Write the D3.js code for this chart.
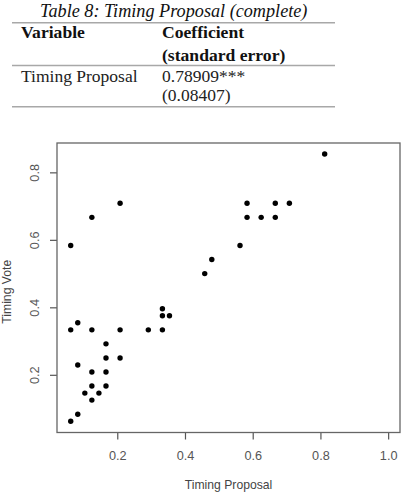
<!DOCTYPE html>
<html>
<head>
<meta charset="utf-8">
<script src="https://cdn.jsdelivr.net/npm/d3@7"></script>
<style>
html,body{margin:0;padding:0;background:#fff;}
svg{display:block;}
</style>
</head>
<body>
<svg id="chart" width="403" height="500"></svg>
<script>
// ---- table data ----
const tableTitle = "Table 8: Timing Proposal (complete)";
const tableHeader = [["Variable"], ["Coefficient", "(standard error)"]];
const tableRow = [["Timing Proposal"], ["0.78909***", "(0.08407)"]];

// ---- scatter data ----
const timingProposal = [0.0625,0.125,0.2083, 0.0625,0.0833,0.125,0.2083,0.2917,0.3333,0.3333,0.3542,0.3333,
  0.1667,0.1667,0.2083,0.0833,0.125,0.1667,0.125,0.1667,0.1042,0.1458,0.125,0.0833,0.0625,
  0.8125,0.5833,0.6667,0.7083,0.5833,0.625,0.6667,0.5625,0.4792,0.4583];
const timingVote = [0.5833,0.6667,0.7083, 0.3333,0.3542,0.3333,0.3333,0.3333,0.3958,0.375,0.375,0.3333,
  0.2917,0.25,0.25,0.2292,0.2083,0.2083,0.1667,0.1667,0.1458,0.1458,0.125,0.0833,0.0625,
  0.8542,0.7083,0.7083,0.7083,0.6667,0.6667,0.6667,0.5833,0.5417,0.5];
const xTicks = [0.2, 0.4, 0.6, 0.8, 1.0];
const yTicks = [0.2, 0.4, 0.6, 0.8];
const xLabel = "Timing Proposal";
const yLabel = "Timing Vote";

const svg = d3.select("#chart");

// ---- table ----
const serif = "'Liberation Serif','Times New Roman',serif";
const tbl = svg.append("g");
tbl.append("text").attr("x", 40).attr("y", 16.5)
  .attr("font-family", serif).attr("font-style", "italic").attr("font-size", 18.2)
  .attr("fill", "#111").text(tableTitle);
const ruleX = [12, 335];
[22.7, 65.5, 106.7].forEach(y => {
  tbl.append("line").attr("x1", ruleX[0]).attr("x2", ruleX[1]).attr("y1", y).attr("y2", y)
    .attr("stroke", "#a8a8a8").attr("stroke-width", 1.5);
});
const colX = [21, 162];
tableHeader.forEach((lines, i) => lines.forEach((t, j) => {
  tbl.append("text").attr("x", colX[i]).attr("y", 37.5 + j * 23.5)
    .attr("font-family", serif).attr("font-weight", "bold").attr("font-size", 17.6)
    .attr("fill", "#111").text(t);
}));
tableRow.forEach((lines, i) => lines.forEach((t, j) => {
  tbl.append("text").attr("x", colX[i]).attr("y", 81.7 + j * 19)
    .attr("font-family", serif).attr("font-size", 17.5)
    .attr("fill", "#222").text(t);
}));

// ---- scatter ----
const sans = "'Liberation Sans',Arial,sans-serif";
const x = d3.scaleLinear().domain([0.022, 1.035]).range([57, 400]);
const y = d3.scaleLinear().domain([0.029, 0.887]).range([432.5, 143]);
const tc = "#555";

const xAxis = svg.append("g").attr("transform", `translate(0,${y.range()[0]})`)
  .call(d3.axisBottom(x).tickValues(xTicks).tickFormat(d3.format(".1f")).tickSize(7).tickSizeOuter(0));
xAxis.select(".domain").remove();
xAxis.selectAll("line").attr("stroke", tc).attr("stroke-width", 1.2);
xAxis.selectAll("text").attr("font-family", sans).attr("font-size", 12.7).attr("fill", tc)
  .attr("dy", null).attr("y", 27);

const yAxis = svg.append("g").attr("transform", `translate(${x.range()[0]},0)`)
  .call(d3.axisLeft(y).tickValues(yTicks).tickFormat(d3.format(".1f")).tickSize(7).tickSizeOuter(0));
yAxis.select(".domain").remove();
yAxis.selectAll("line").attr("stroke", tc).attr("stroke-width", 1.2);
yAxis.selectAll("text").attr("font-family", sans).attr("font-size", 12.7).attr("fill", tc)
  .attr("x", null).attr("dy", null).attr("text-anchor", "middle")
  .attr("transform", "translate(-18,0) rotate(-90)");

svg.append("rect")
  .attr("x", x.range()[0]).attr("y", y.range()[1])
  .attr("width", x.range()[1] - x.range()[0]).attr("height", y.range()[0] - y.range()[1])
  .attr("fill", "none").attr("stroke", "#666").attr("stroke-width", 1.3);

svg.append("g").selectAll("circle")
  .data(timingProposal.map((d, i) => [d, timingVote[i]]))
  .join("circle")
  .attr("cx", d => x(d[0])).attr("cy", d => y(d[1])).attr("r", 2.7).attr("fill", "#000");

svg.append("text").attr("x", (x.range()[0] + x.range()[1]) / 2).attr("y", 488.5)
  .attr("text-anchor", "middle").attr("font-family", sans).attr("font-size", 12.2)
  .attr("fill", "#444").text(xLabel);
svg.append("text")
  .attr("transform", `translate(11,${(y.range()[0] + y.range()[1]) / 2 + 4}) rotate(-90)`)
  .attr("text-anchor", "middle").attr("font-family", sans).attr("font-size", 12.2)
  .attr("fill", "#444").text(yLabel);
</script>
</body>
</html>
